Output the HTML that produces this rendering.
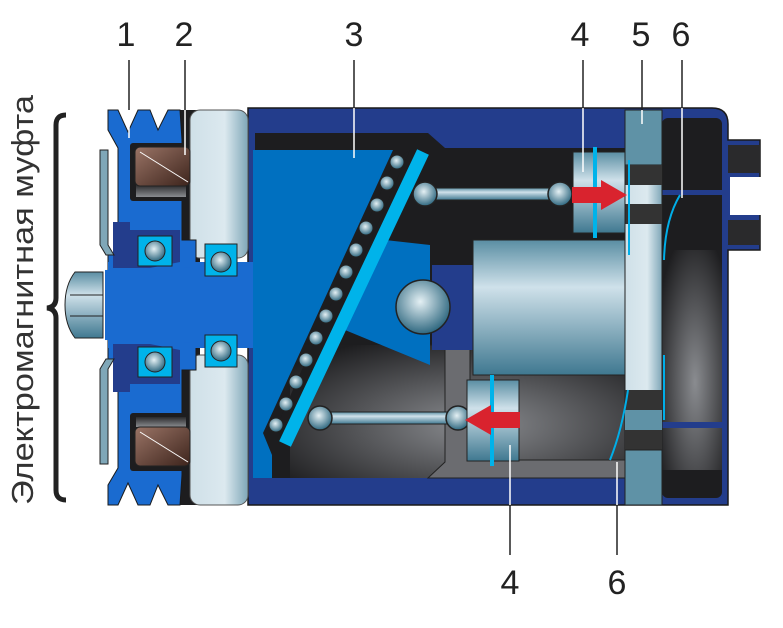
<!DOCTYPE html>
<html><head><meta charset="utf-8"><style>html,body{margin:0;padding:0;background:#fff}svg{display:block}</style></head>
<body>
<svg width="783" height="628" viewBox="0 0 783 628" xmlns="http://www.w3.org/2000/svg">
<defs>
<linearGradient id="steel" x1="0" y1="0" x2="0" y2="1">
<stop offset="0" stop-color="#5a8ea3"/><stop offset="0.35" stop-color="#cfe1ea"/><stop offset="1" stop-color="#3f7890"/></linearGradient>
<linearGradient id="steelh" x1="0" y1="0" x2="1" y2="0">
<stop offset="0" stop-color="#cfe0e8"/><stop offset="0.6" stop-color="#dce9ef"/><stop offset="1" stop-color="#7fa7b8"/></linearGradient>
<radialGradient id="ball" cx="0.45" cy="0.4" r="0.6"><stop offset="0" stop-color="#e4f0f4"/><stop offset="1" stop-color="#2f6880"/></radialGradient>
<radialGradient id="grey" cx="0.55" cy="0.6" r="0.7"><stop offset="0" stop-color="#8a8c90"/><stop offset="1" stop-color="#1e1e20"/></radialGradient>
<linearGradient id="gv" x1="0" y1="0" x2="0" y2="1"><stop offset="0" stop-color="#2a2a2c"/><stop offset="1" stop-color="#8a8c90"/></linearGradient>
<linearGradient id="coil" x1="0" y1="0" x2="1" y2="1"><stop offset="0" stop-color="#9a7466"/><stop offset="1" stop-color="#3d241c"/></linearGradient>
</defs>
<!-- housing -->
<path d="M248,108 H712 Q728,108 728,124 V140 H760 V250 H728 V505 H248 Z" fill="#233d8c" stroke="#1a1a1a" stroke-width="1.5"/>
<rect x="730" y="177" width="32" height="38" fill="#fff"/>
<rect x="728" y="145" width="32" height="28" fill="#2a2a2c"/>
<rect x="728" y="220" width="32" height="25" fill="#2a2a2c"/>
<path d="M255,133 H428 L445,148 H625 V478 H255 Z" fill="#1d1d1f"/>
<rect x="662" y="118" width="60" height="380" rx="6" fill="#1d1d1f"/>
<rect x="662" y="250" width="60" height="220" fill="url(#grey)"/>
<rect x="662" y="422" width="60" height="6" fill="#233d8c"/>
<rect x="662" y="190" width="60" height="5" fill="#233d8c"/>
<!-- grey lower chamber -->
<path d="M290,345 H625 V478 H290 Z" fill="url(#grey)"/>
<path d="M428,345 H470 V460 H625 V478 H428 L445,462 V345Z" fill="#6b6c70" stroke="#222" stroke-width="1"/>
<rect x="432" y="265" width="45" height="85" fill="#233d8c"/>
<rect x="473" y="240" width="152" height="135" fill="url(#steel)" stroke="#222"/>
<!-- valve plate -->
<rect x="625" y="110" width="37" height="395" fill="url(#steelh)" stroke="#222"/>
<rect x="625" y="110" width="37" height="55" fill="#5f92a6" stroke="#222"/>
<rect x="625" y="165" width="37" height="20" fill="#333"/>
<rect x="625" y="204" width="37" height="20" fill="#333"/>
<rect x="625" y="390" width="37" height="20" fill="#333"/>
<rect x="625" y="410" width="37" height="20" fill="#5f92a6"/>
<rect x="625" y="430" width="37" height="20" fill="#333"/>
<rect x="625" y="450" width="37" height="55" fill="#5f92a6" stroke="#222"/>
<path d="M680,195 Q665,220 664,260" stroke="#00aee8" stroke-width="2" fill="none"/>
<path d="M628,390 Q622,430 610,460" stroke="#00aee8" stroke-width="2" fill="none"/>
<line x1="629" y1="160" x2="629" y2="255" stroke="#00aee8" stroke-width="2"/>
<line x1="664" y1="355" x2="664" y2="420" stroke="#00aee8" stroke-width="2"/>
<!-- blue swash body -->
<path d="M253,150 H393 L263,433 L272,455 V478 H253 V340 H212 V270 H253 Z" fill="#0070c0"/>
<path d="M385,240 L430,245 L430,365 L345,330 Z" fill="#0070c0"/>
<circle cx="423" cy="307" r="27" fill="url(#ball)" stroke="#222" stroke-width="1.5"/>
<path d="M276,428 L395,160 L410,150 L283,440 Z" fill="#1d1d1f"/>
<line x1="423" y1="152" x2="285" y2="444" stroke="#00b3ea" stroke-width="13"/>
<g fill="url(#ball)" stroke="#222" stroke-width="1">
<circle cx="397" cy="162" r="7"/><circle cx="387" cy="183" r="7"/><circle cx="377" cy="205" r="7"/><circle cx="366" cy="228" r="7"/><circle cx="356" cy="250" r="7"/><circle cx="346" cy="272" r="7"/><circle cx="336" cy="294" r="7"/><circle cx="326" cy="316" r="7"/><circle cx="316" cy="338" r="7"/><circle cx="306" cy="360" r="7"/><circle cx="296" cy="382" r="7"/><circle cx="286" cy="404" r="7"/><circle cx="276" cy="425" r="7"/></g>
<rect x="425" y="188" width="135" height="12" fill="url(#steel)" stroke="#222"/>
<rect x="320" y="412" width="138" height="12" fill="url(#steel)" stroke="#222"/>
<g fill="url(#ball)" stroke="#222" stroke-width="1.5">
<circle cx="425" cy="194" r="12"/><circle cx="560" cy="194" r="12"/><circle cx="320" cy="418" r="12"/><circle cx="458" cy="418" r="12"/></g>
<rect x="573" y="152" width="52" height="81" fill="url(#steel)" stroke="#222"/>
<rect x="593" y="147" width="4" height="91" fill="#00b3ea"/>
<rect x="467" y="380" width="52" height="81" fill="url(#steel)" stroke="#222"/>
<rect x="490" y="375" width="4" height="91" fill="#00b3ea"/>
<path d="M572,187 H601 V180 L627,195 L601,210 V203 H572 Z" fill="#d9232e"/>
<path d="M520,412 H491 V405 L465,420 L491,435 V428 H520 Z" fill="#d9232e"/>
<!-- black gap behind pulley -->
<rect x="180" y="110" width="20" height="395" fill="#1d1d1f"/>
<rect x="190" y="110" width="58" height="148" rx="10" fill="url(#steelh)" stroke="#555"/>
<rect x="190" y="355" width="58" height="150" rx="10" fill="url(#steelh)" stroke="#555"/>
<!-- left pulley -->
<path d="M108,110 L118,110 L128,132 L138,110 L150,110 L158,130 L168,110 L180,110 L182,140 V240 H196 V270 H108 V255 H118 V148 L108,130 Z" fill="#1a6bd0" stroke="#1a1a1a" stroke-width="1"/>
<path d="M108,505 L118,505 L128,483 L138,505 L150,505 L158,485 L168,505 L180,505 L182,475 V370 H196 V340 H108 V360 H118 V468 L108,485 Z" fill="#1a6bd0" stroke="#1a1a1a" stroke-width="1"/>
<rect x="108" y="262" width="145" height="86" fill="#1a6bd0"/>
<path d="M113,222 H130 V230 H180 V262 L150,268 H113 Z" fill="#233d8c"/>
<path d="M113,392 H130 V384 H180 V350 L150,344 H113 Z" fill="#233d8c"/>
<path d="M105,270 L253,265 V345 L105,340Z" fill="#1a6bd0"/>
<rect x="130" y="143" width="58" height="58" rx="3" fill="#1d1d1f"/>
<rect x="136" y="185" width="50" height="12" fill="url(#gv)"/>
<rect x="135" y="147" width="55" height="39" rx="5" fill="url(#coil)" stroke="#222"/>
<line x1="140" y1="152" x2="188" y2="182" stroke="#fff" stroke-width="1"/>
<rect x="130" y="413" width="58" height="58" rx="3" fill="#1d1d1f"/>
<rect x="136" y="417" width="50" height="10" fill="url(#gv)"/>
<rect x="135" y="427" width="55" height="39" rx="5" fill="url(#coil)" stroke="#222"/>
<line x1="140" y1="432" x2="188" y2="462" stroke="#fff" stroke-width="1"/>
<rect x="138" y="236" width="34" height="30" fill="#00b3ea" stroke="#222"/>
<rect x="205" y="244" width="32" height="32" fill="#00b3ea" stroke="#222"/>
<rect x="138" y="347" width="34" height="30" fill="#00b3ea" stroke="#222"/>
<rect x="205" y="335" width="32" height="32" fill="#00b3ea" stroke="#222"/>
<g fill="url(#ball)" stroke="#222"><circle cx="155" cy="251" r="10"/><circle cx="221" cy="262" r="10"/><circle cx="155" cy="362" r="10"/><circle cx="221" cy="351" r="10"/></g>
<path d="M100,150 h8 v95 l6,10 h-8 l-6,-10z" fill="#7fa7b8" stroke="#222"/>
<path d="M100,464 h8 v-95 l6,-10 h-8 l-6,10z" fill="#7fa7b8" stroke="#222"/>
<path d="M75,272 H103 V338 H75 Q65,325 65,305 Q65,285 75,272 Z" fill="url(#steel)" stroke="#222"/>
<line x1="70" y1="295" x2="103" y2="295" stroke="#222"/><line x1="70" y1="316" x2="103" y2="316" stroke="#222"/>
<!-- brace -->
<path d="M66,115 Q56,115 56,125 V298 Q56,307 47,308 Q56,309 56,318 V490 Q56,500 66,500" fill="none" stroke="#222" stroke-width="5"/>
<text transform="translate(33,300) rotate(-90)" text-anchor="middle" font-family="Liberation Sans Narrow, Liberation Sans, sans-serif" font-size="31" fill="#333" textLength="410" lengthAdjust="spacingAndGlyphs">Электромагнитная муфта</text>
<g stroke="#222" stroke-width="1.5">
<line x1="129" y1="60" x2="129" y2="110"/><line x1="185" y1="60" x2="185" y2="110"/><line x1="354" y1="60" x2="354" y2="108"/><line x1="583" y1="60" x2="583" y2="108"/><line x1="642" y1="60" x2="642" y2="110"/><line x1="682" y1="60" x2="682" y2="108"/>
<line x1="510" y1="505" x2="510" y2="555"/><line x1="617" y1="505" x2="617" y2="555"/></g>
<g stroke="#fff" stroke-width="1.5">
<line x1="129" y1="110" x2="129" y2="138"/><line x1="185" y1="110" x2="185" y2="155"/><line x1="354" y1="108" x2="354" y2="158"/><line x1="583" y1="108" x2="583" y2="172"/><line x1="642" y1="110" x2="642" y2="124"/><line x1="682" y1="108" x2="682" y2="198"/>
<line x1="510" y1="445" x2="510" y2="505"/><line x1="617" y1="462" x2="617" y2="505"/></g>
<g font-family="Liberation Sans Narrow, Liberation Sans, sans-serif" font-size="34" fill="#222" text-anchor="middle">
<text x="126" y="46">1</text><text x="184" y="46">2</text><text x="354" y="46">3</text><text x="580" y="46">4</text><text x="641" y="46">5</text><text x="681" y="46">6</text>
<text x="510" y="594">4</text><text x="617" y="594">6</text></g>
</svg>
</body></html>
